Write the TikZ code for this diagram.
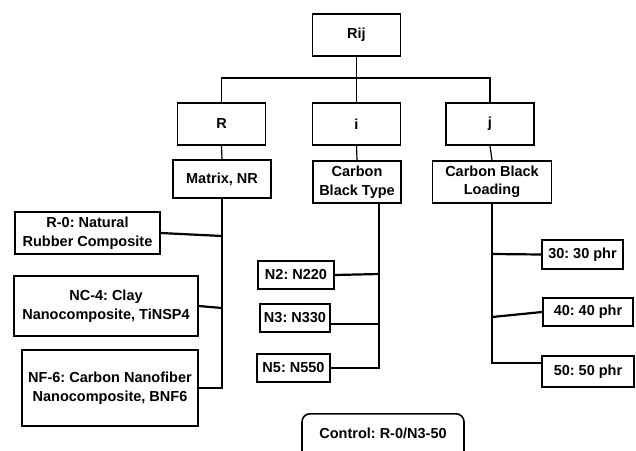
\documentclass[tikz,border=0pt]{standalone}
\usepackage{fontspec}
\setmainfont{Liberation Sans}
\usetikzlibrary{calc}
\frenchspacing
\begin{document}
\begin{tikzpicture}[x=1pt,y=-1pt,
  txt/.style={font=\bfseries\fontsize{14.5}{18.5}\selectfont},
  box/.style={draw, line width=1.6pt, align=center, inner sep=0pt, txt},
  topbox/.style={box, minimum width=88pt, minimum height=42pt},
  conn/.style={line width=2.2pt},
  thinconn/.style={line width=1.2pt}]
\useasboundingbox (0,0) rectangle (636,450);
% top level
\node[topbox] (rij) at (356.5,35) {Rij};
\node[topbox] (R) at (221.5,124) {R};
\node[topbox] (i) at (356.5,124) {i};
\node[topbox] (j) at (490,124) {j};
% second level
\node[box, minimum width=98pt, minimum height=38pt] (matrix) at (222,179) {Matrix, NR};
\node[box, minimum width=88pt, minimum height=42pt] (cbt) at (357,182) {Carbon\\Black Type};
\node[box, minimum width=119pt, minimum height=42pt] (cbl) at (492,182) {Carbon Black\\Loading};
% R column
\node[box, minimum width=145pt, minimum height=42pt] (r0) at (87.5,233) {R-0: Natural\\Rubber Composite};
\node[box, minimum width=184pt, minimum height=60pt] (nc4) at (106,306) {NC-4: Clay\\Nanocomposite, TiNSP4};
\node[box, minimum width=176pt, minimum height=76pt] (nf6) at (110,388) {NF-6: Carbon Nanofiber\\Nanocomposite, BNF6};
% i column
\node[box, minimum width=76pt, minimum height=28pt] (n2) at (296,275) {N2: N220};
\node[box, minimum width=70pt, minimum height=28pt] (n3) at (295,318) {N3: N330};
\node[box, minimum width=73pt, minimum height=28pt] (n5) at (293.5,368) {N5: N550};
% j column
\node[box, minimum width=81pt, minimum height=29pt] (p30) at (582.5,254.5) {30: 30 phr};
\node[box, minimum width=90pt, minimum height=28pt] (p40) at (588,312) {40: 40 phr};
\node[box, minimum width=92pt, minimum height=31pt] (p50) at (588,371.5) {50: 50 phr};
% control
\node[draw, line width=1.6pt, rounded corners=8pt, minimum width=162pt, minimum height=54pt, anchor=north] (control) at (383,413) {};
\node[txt] (controltext) at (383,433) {Control: R-0/N3-50};
% connectors top
\coordinate (bar) at (356.5,78);
\draw[thinconn] (rij.south) -- (i.north);
\draw[thinconn] (R.north) |- (bar) -| (j.north);
\draw[thinconn] (R.south) -- (matrix.north);
\draw[thinconn] (i.south) -- (cbt.north);
\draw[thinconn] (j.south) -- (cbl.north);
% R spine
\coordinate (sr0) at (222,236);
\coordinate (snc) at (222,308);
\draw[conn] (matrix.south) |- (nf6.east);
\draw[conn] (r0.east) -- (sr0);
\draw[conn] (nc4.east |- 0,306) -- (snc);
% i spine
\coordinate (si) at (379,203);
\coordinate (sn2) at (379,274);
\coordinate (sn3) at (379,324);
\coordinate (n3e) at (330,324);
\draw[conn] (si) |- (n5.east);
\draw[conn] (n2.east) -- (sn2);
\draw[conn] (n3e) -- (sn3);
% j spine
\coordinate (s30) at (492,254);
\coordinate (s40) at (492,317);
\coordinate (s50) at (492,363);
\coordinate (p50c) at (542,363);
\draw[conn] (cbl.south) -- (s50) -- (p50c);
\draw[conn] (s30) -- (p30.west);
\draw[conn] (s40) -- (p40.west);
\end{tikzpicture}
\end{document}
